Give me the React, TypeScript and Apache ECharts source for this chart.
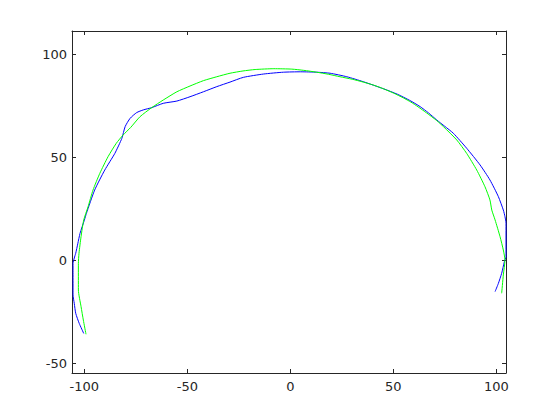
import React, { useEffect, useRef } from "react";
import * as echarts from "echarts";

const xTicks = [-100, -50, 0, 50, 100];
const yTicks = [-50, 0, 50, 100];
const xRange = [-106, 104.7];
const yRange = [-54.7, 111.3];

const blueX = [-100.3, -102.5, -104.2, -104.9, -105.5, -105.5, -105.5, -104.9, -104.2, -103.2, -102.1, -100.0, -99, -95, -90.1, -85.2, -81.8, -80.2, -77.8, -74.6, -71.4, -67.3, -61.7, -55.1, -48.7, -42.2, -35.7, -29.3, -22.8, -13.1, -3.4, 5, 12.8, 19.3, 27.4, 35.4, 45.1, 52, 58, 63, 67, 71.1, 75, 79.1, 85.6, 92.1, 96.9, 101, 103.4, 104.2, 104.7, 104.7, 103.9, 102.6, 101, 99.4];
const blueY = [-35.5, -30.6, -25.7, -20.9, -16.8, -6, -1.5, 1.1, 3.4, 8, 13.1, 19.5, 22.8, 34.1, 43.8, 51.9, 59.2, 64.9, 68.9, 71.7, 73, 74.1, 76.2, 77.3, 79.4, 81.8, 84.3, 86.5, 88.8, 90.4, 91.3, 91.5, 91.3, 90.8, 89.1, 86.7, 83.3, 80.6, 77.6, 74.6, 71.6, 68.1, 65, 61.7, 54.4, 46.3, 39, 30.9, 24.4, 21.2, 18, 1.7, -0.7, -6.3, -11.2, -15.2];

const greenX = [-99.2, -100.5, -101.6, -102.9, -102.9, -102.6, -101.6, -100.3, -98.2, -95.8, -92.5, -88.5, -84.5, -81.2, -77.5, -73, -67.3, -61.7, -55.1, -48.7, -42.2, -35.7, -29.3, -23, -17.1, -8, 0.7, 6.5, 12.8, 18.5, 24.1, 30, 35.4, 40.5, 45.1, 50, 54.9, 58.5, 62, 66.2, 71.1, 74.3, 80.8, 85.6, 90.5, 94.5, 96.9, 97.8, 99.4, 101.8, 103.4, 104.2, 103.4, 102.6];
const greenY = [-35.9, -29, -22.5, -14.4, -1.5, 3.4, 11.5, 19.6, 26, 34.1, 42.2, 50.3, 56.8, 60.8, 64.5, 69.7, 74.1, 77.8, 81.8, 84.6, 87.2, 89.1, 90.8, 91.9, 92.6, 93, 92.8, 92.2, 91.3, 90.3, 89.1, 87.9, 86.5, 85, 83.3, 81.2, 78.8, 76.8, 74.5, 71.5, 67.8, 64.9, 58.4, 51.9, 43.8, 35.7, 29.3, 24.4, 19.6, 11.5, 5, 0.1, -7.1, -16];

const AXC = "#262626";

export default function App() {
  const ref = useRef<HTMLDivElement>(null);
  useEffect(() => {
    if (!ref.current) return;
    const chart = echarts.init(ref.current, null, { renderer: "svg" });
    const axisCommon = (ticks: number[], range: number[]) => ({
      type: "value" as const,
      min: range[0],
      max: range[1],
      splitLine: { show: false },
      axisLine: { show: true, onZero: false, lineStyle: { color: AXC, width: 1 } },
      axisTick: { show: true, inside: true, length: 4, customValues: ticks, lineStyle: { color: AXC, width: 1 } },
    });
    const label = (ticks: number[], margin: number, show: boolean) => ({
      show,
      customValues: ticks,
      color: AXC,
      fontFamily: "DejaVu Sans",
      fontSize: 13,
      margin,
    });
    chart.setOption({
      animation: false,
      backgroundColor: "#ffffff",
      grid: { left: 72, top: 31, right: 54, bottom: 47, containLabel: false },
      xAxis: [
        { ...axisCommon(xTicks, xRange), position: "bottom", axisLabel: label(xTicks, 7, true) },
        { ...axisCommon(xTicks, xRange), position: "top", axisLabel: label(xTicks, 7, false) },
      ],
      yAxis: [
        { ...axisCommon(yTicks, yRange), position: "left", axisLabel: label(yTicks, 5, true) },
        { ...axisCommon(yTicks, yRange), position: "right", axisLabel: label(yTicks, 5, false) },
      ],
      series: [
        {
          type: "line",
          data: blueX.map((x, i) => [x, blueY[i]]),
          showSymbol: false,
          symbol: "none",
          smooth: 0.2,
          lineStyle: { color: "#0000ff", width: 1 },
          xAxisIndex: 0,
          yAxisIndex: 0,
        },
        {
          type: "line",
          data: greenX.map((x, i) => [x, greenY[i]]),
          showSymbol: false,
          symbol: "none",
          smooth: 0.2,
          lineStyle: { color: "#00ff00", width: 1 },
          xAxisIndex: 0,
          yAxisIndex: 0,
        },
      ],
    });
    return () => chart.dispose();
  }, []);
  return (
    <div
      ref={ref}
      style={{ position: "fixed", left: 0, top: 0, width: 560, height: 420, background: "#fff" }}
    />
  );
}
